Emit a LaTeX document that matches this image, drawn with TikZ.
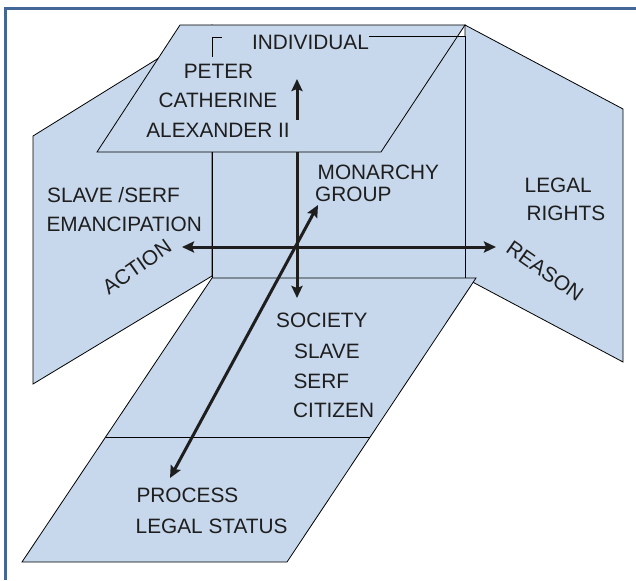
\documentclass[tikz,border=0pt]{standalone}
\usepackage{fontspec}
\setmainfont{Liberation Sans}
\usetikzlibrary{arrows.meta}
\definecolor{planefill}{RGB}{199,215,236}
\definecolor{framecol}{RGB}{67,103,150}
\definecolor{inkcol}{RGB}{30,30,30}
\begin{document}
\begin{tikzpicture}[x=1pt,y=-1pt,
  plane/.style={fill=planefill,draw=black,line width=0.8pt,line join=miter},
  thin edge/.style={draw=black,line width=0.8pt},
  axis/.style={line width=3pt,draw=inkcol,
    {Stealth[length=12pt,width=11pt,inset=2pt]}-{Stealth[length=12pt,width=11pt,inset=2pt]}},
  oneway/.style={line width=3pt,draw=inkcol,-{Stealth[length=12pt,width=11pt,inset=2pt]}},
  lbl/.style={font=\fontsize{20.8}{24}\selectfont,text=inkcol,inner sep=0pt,anchor=base west},
  lblc/.style={font=\fontsize{20.8}{24}\selectfont,text=inkcol,inner sep=0pt,anchor=base},
  slanted/.style={font=\fontsize{20.8}{24}\selectfont,text=inkcol,inner sep=0pt,anchor=center}
  ]
\useasboundingbox (0,0) rectangle (636,580);
\fill[white] (0,0) rectangle (636,580);

% outer frame (top and left edges)
\draw[framecol,line width=3pt] (5.5,580) -- (5.5,8.5) -- (636,8.5);

% left wall, right wall and back wall
\draw[plane] (33,136) -- (212,25) -- (212,276) -- (33,384) -- cycle;
\draw[plane] (465,25) -- (623,109) -- (623,362) -- (465,278) -- cycle;
\draw[plane] (212,36) rectangle (465,278);

% floor with its dividing line
\draw[plane] (212,278) -- (476,278) -- (287,562) -- (22,562) -- cycle;
\coordinate (divL) at (105.6,437);
\coordinate (divR) at (370.2,437);
\draw[thin edge] (divL) -- (divR);

% top plane
\draw[plane] (180,25) -- (465,25) -- (381,152) -- (97,152) -- cycle;

% back wall edges showing through the top plane
\coordinate (cornA) at (212,57);
\coordinate (cornB) at (212,37);
\coordinate (cornC) at (222,37);
\draw[thin edge] (cornA) -- (cornB) -- (cornC);
\coordinate (topL) at (369,36);
\coordinate (topR) at (465,36);
\draw[thin edge] (topL) -- (topR);

% axes
\coordinate (upS) at (297,120);
\coordinate (upT) at (297,79);
\coordinate (vTop) at (297,152);
\coordinate (vBot) at (297,298);
\coordinate (hL) at (182,247);
\coordinate (hR) at (496,247);
\coordinate (dNE) at (318,205);
\coordinate (dSW) at (170,478);
\draw[oneway] (upS) -- (upT);
\draw[oneway] (vTop) -- (vBot);
\draw[axis] (hL) -- (hR);
\draw[axis] (dSW) -- (dNE);

% labels on the top plane
\node[lblc] (individual) at (310.5,50) {INDIVIDUAL};
\node[lblc] (peter) at (218.5,79) {PETER};
\node[lblc] (catherine) at (218,108) {CATHERINE};
\node[lblc] (alexander) at (218,138) {ALEXANDER II};

% labels on the back wall
\node[lbl] (monarchy) at (317.5,179) {MONARCHY};
\node[lbl] (group) at (315,201) {GROUP};

% labels on the left wall
\node[lbl] (slaveserf) at (47,202) {SLAVE /SERF};
\node[lbl] (emancip) at (46.4,231) {EMANCIPATION};
\node[slanted,rotate=35] (action) at (137,267) {ACTION};

% labels on the right wall
\node[lbl] (legal) at (524.5,192) {LEGAL};
\node[lbl] (rights) at (526.4,220) {RIGHTS};
\node[slanted,rotate=-35] (reason) at (545,271) {REASON};

% labels on the floor
\node[lbl] (society) at (276,327) {SOCIETY};
\node[lbl] (slave) at (294,358) {SLAVE};
\node[lbl] (serf) at (293.4,388) {SERF};
\node[lbl] (citizen) at (293,417) {CITIZEN};
\node[lbl] (process) at (136.4,502) {PROCESS};
\node[lbl] (legalstatus) at (135.5,533) {LEGAL STATUS};
\end{tikzpicture}
\end{document}
